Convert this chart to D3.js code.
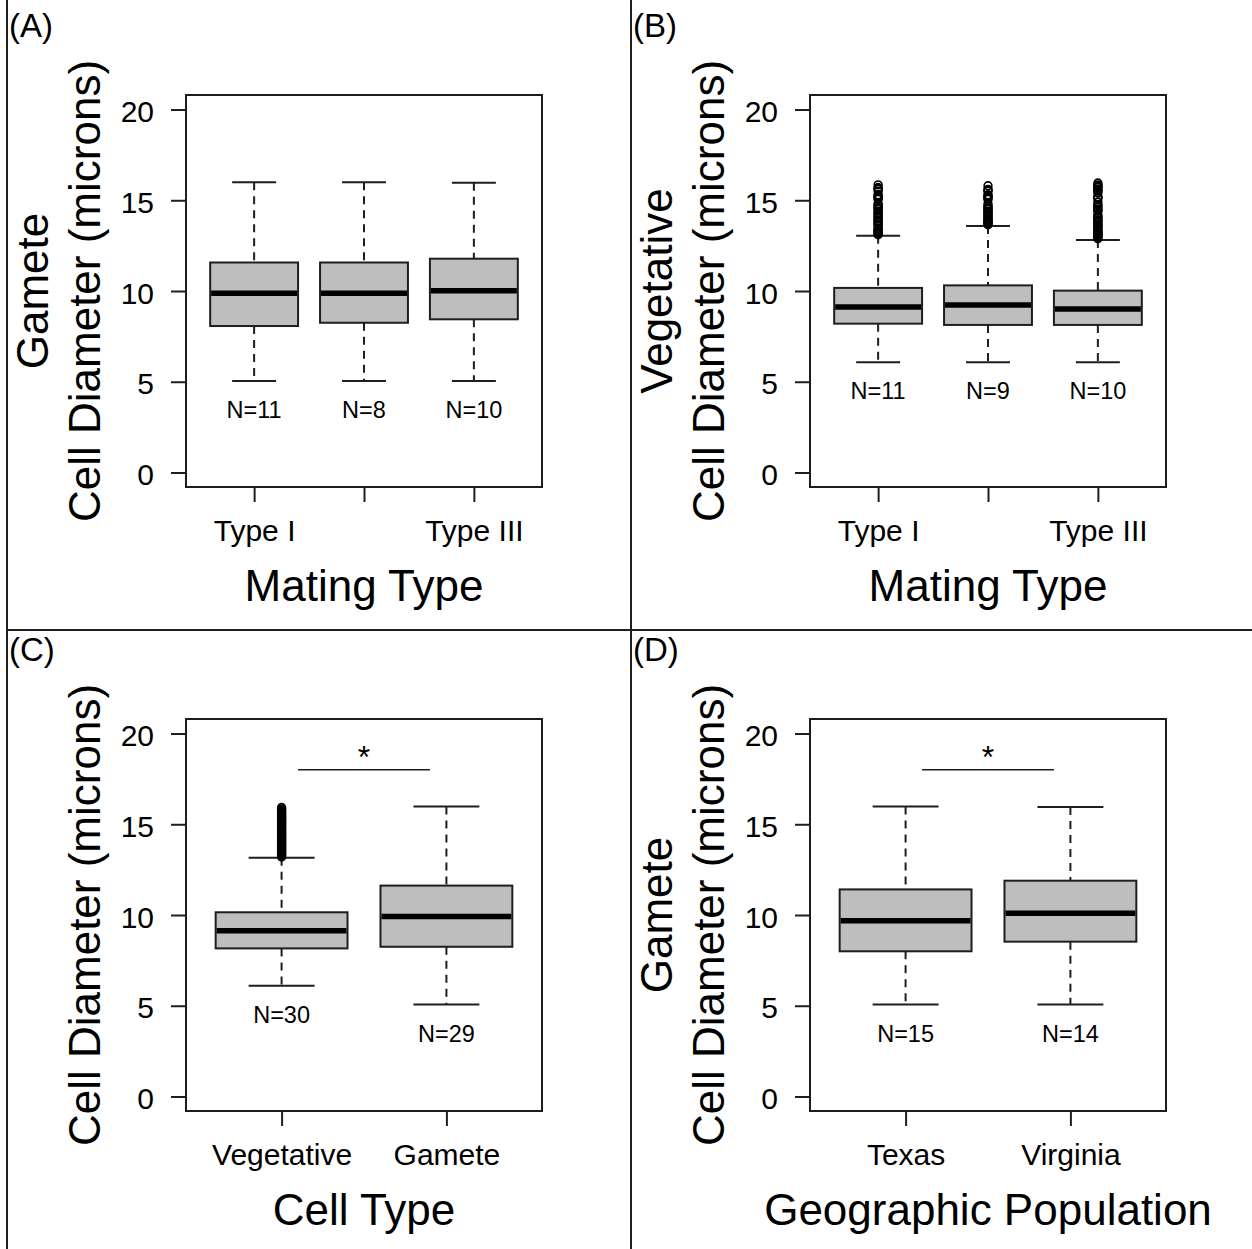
<!DOCTYPE html>
<html>
<head>
<meta charset="utf-8">
<script src="https://cdn.jsdelivr.net/npm/d3@7"></script>
<style>
  html, body { margin: 0; padding: 0; background: #fff; }
  svg { display: block; font-family: "Liberation Sans", Arial, sans-serif; }
</style>
</head>
<body>
<script>
// ---------------- DATA ----------------
const yTicks = [0, 5, 10, 15, 20];

// Panel A: gamete cell diameter by mating type
const aCategories = ["Type I", "Type II", "Type III"];
const aTickLabels = ["Type I", "", "Type III"];
const aLow    = [5.04, 5.04, 5.04];
const aQ1     = [8.07, 8.25, 8.44];
const aMedian = [9.87, 9.87, 10.02];
const aQ3     = [11.57, 11.57, 11.78];
const aHigh   = [15.99, 15.99, 15.97];
const aN      = ["N=11", "N=8", "N=10"];
const aOutliers = [[], [], []];

// Panel B: vegetative cell diameter by mating type
const bCategories = ["Type I", "Type II", "Type III"];
const bTickLabels = ["Type I", "", "Type III"];
const bLow    = [6.07, 6.07, 6.07];
const bQ1     = [8.2, 8.13, 8.13];
const bMedian = [9.12, 9.23, 9.01];
const bQ3     = [10.17, 10.31, 10.02];
const bHigh   = [13.05, 13.58, 12.81];
const bN      = ["N=11", "N=9", "N=10"];
const bOutliers1 = [13.1, 13.15, 13.2, 13.25, 13.3, 13.35, 13.4, 13.45, 13.6, 13.65, 13.7, 13.8, 13.85, 13.9, 14.0, 14.05, 14.1, 14.2, 14.25, 14.3, 14.4, 14.5, 14.55, 14.6, 14.7, 14.75, 14.8, 15.05, 15.1, 15.2, 15.25, 15.3, 15.5, 15.6, 15.65, 15.7, 15.85];
const bOutliers2 = [13.65, 13.7, 13.75, 13.8, 13.85, 13.9, 13.95, 14.0, 14.1, 14.15, 14.2, 14.3, 14.35, 14.4, 14.5, 14.55, 14.6, 14.7, 14.8, 15.05, 15.1, 15.2, 15.25, 15.3, 15.5, 15.55, 15.6, 15.8];
const bOutliers3 = [12.88, 12.95, 13.0, 13.05, 13.1, 13.15, 13.2, 13.25, 13.3, 13.35, 13.4, 13.5, 13.55, 13.6, 13.65, 13.7, 13.8, 13.85, 13.9, 14.0, 14.05, 14.1, 14.2, 14.4, 14.45, 14.5, 14.6, 14.7, 14.75, 14.9, 15.1, 15.15, 15.2, 15.4, 15.5, 15.55, 15.6, 15.7, 15.75, 15.8, 15.85, 15.95];

// Panel C: cell diameter by cell type
const cCategories = ["Vegetative", "Gamete"];
const cTickLabels = ["Vegetative", "Gamete"];
const cLow    = [6.1, 5.07];
const cQ1     = [8.16, 8.25];
const cMedian = [9.13, 9.92];
const cQ3     = [10.15, 11.62];
const cHigh   = [13.15, 15.98];
const cN      = ["N=30", "N=29"];
const cOutliers1 = [13.2, 13.25, 13.3, 13.35, 13.4, 13.45, 13.5, 13.55, 13.6, 13.65, 13.7, 13.75, 13.8, 13.85, 13.9, 13.95, 14.0, 14.05, 14.1, 14.15, 14.2, 14.25, 14.3, 14.35, 14.4, 14.45, 14.5, 14.55, 14.6, 14.65, 14.7, 14.75, 14.8, 14.85, 14.9, 14.95, 15.0, 15.05, 15.1, 15.15, 15.2, 15.25, 15.3, 15.35, 15.4, 15.45, 15.5, 15.55, 15.6, 15.65, 15.7, 15.75, 15.8, 15.85, 15.92];

// Panel D: gamete cell diameter by geographic population
const dCategories = ["Texas", "Virginia"];
const dTickLabels = ["Texas", "Virginia"];
const dLow    = [5.07, 5.07];
const dQ1     = [8.0, 8.53];
const dMedian = [9.68, 10.1];
const dQ3     = [11.41, 11.89];
const dHigh   = [15.98, 15.95];
const dN      = ["N=15", "N=14"];

// significance bars: [from group, to group, value]
const cSignif = [1.1, 1.9, 18.0];
const dSignif = [1.1, 1.9, 18.0];

// ---------------- DRAWING ----------------
const W = 1252, H = 1249;
const svg = d3.select("body").append("svg").attr("width", W).attr("height", H);
const ink = "#1e1e1e";
const FONT_TICK = 30, FONT_TITLE = 44, FONT_N = 23.5, FONT_PANEL = 33;

function makeStats(cats, low, q1, med, q3, high, n, outliers) {
  return cats.map((c, i) => ({ cat: c, low: low[i], q1: q1[i], med: med[i], q3: q3[i], high: high[i], n: n[i], out: outliers[i] || [] }));
}

const panels = [
  { ox: 0,   oy: 0,   tag: "(A)", yTitle: ["Gamete", "Cell Diameter (microns)"], xTitle: "Mating Type",
    cats: aCategories, tickLabels: aTickLabels, stats: makeStats(aCategories, aLow, aQ1, aMedian, aQ3, aHigh, aN, aOutliers), signif: null },
  { ox: 624, oy: 0,  tag: "(B)", yTitle: ["Vegetative", "Cell Diameter (microns)"], xTitle: "Mating Type",
    cats: bCategories, tickLabels: bTickLabels, stats: makeStats(bCategories, bLow, bQ1, bMedian, bQ3, bHigh, bN, [bOutliers1, bOutliers2, bOutliers3]), signif: null },
  { ox: 0,   oy: 624, tag: "(C)", yTitle: [null, "Cell Diameter (microns)"], xTitle: "Cell Type",
    cats: cCategories, tickLabels: cTickLabels, stats: makeStats(cCategories, cLow, cQ1, cMedian, cQ3, cHigh, cN, [cOutliers1, []]), signif: cSignif },
  { ox: 624, oy: 624, tag: "(D)", yTitle: ["Gamete", "Cell Diameter (microns)"], xTitle: "Geographic Population",
    cats: dCategories, tickLabels: dTickLabels, stats: makeStats(dCategories, dLow, dQ1, dMedian, dQ3, dHigh, dN, [[], []]), signif: dSignif }
];

// dividers
svg.append("line").attr("x1", 7).attr("x2", 7).attr("y1", 0).attr("y2", H).attr("stroke", ink).attr("stroke-width", 2);
svg.append("line").attr("x1", 631).attr("x2", 631).attr("y1", 0).attr("y2", H).attr("stroke", ink).attr("stroke-width", 2);
svg.append("line").attr("x1", 7).attr("x2", W).attr("y1", 630).attr("y2", 630).attr("stroke", ink).attr("stroke-width", 2);

panels.forEach(p => {
  const g = svg.append("g").attr("transform", `translate(${p.ox},${p.oy})`);
  const left = 186, right = 542, top = 95, bottom = 487;
  const n = p.cats.length;
  const ext = 0.04 * n;
  const x = d3.scaleLinear().domain([0.5 - ext, n + 0.5 + ext]).range([left, right]);
  const y = d3.scaleLinear().domain([-0.8, 20.8]).range([bottom, top]);
  const unit = x(2) - x(1);
  const bw = 0.8 * unit, cw = 0.4 * unit;

  // panel tag
  g.append("text").attr("x", 9).attr("y", 37).attr("font-size", FONT_PANEL).attr("fill", "#000").text(p.tag);

  // y axis
  const yAxis = d3.axisLeft(y).tickValues(yTicks).tickSize(15).tickPadding(17).tickFormat(d3.format("d"));
  const ya = g.append("g").attr("transform", `translate(${left},0)`).call(yAxis);
  ya.select(".domain").remove();
  ya.selectAll(".tick line").attr("stroke", ink).attr("stroke-width", 2);
  ya.selectAll(".tick text").attr("font-size", FONT_TICK).attr("fill", "#000")
    .attr("font-family", '"Liberation Sans", Arial, sans-serif').attr("dy", "0.4em");

  // x axis
  const xAxis = d3.axisBottom(x).tickValues(d3.range(1, n + 1)).tickSize(15).tickPadding(0)
    .tickFormat((d, i) => p.tickLabels[i]);
  const xa = g.append("g").attr("transform", `translate(0,${bottom})`).call(xAxis);
  xa.select(".domain").remove();
  xa.selectAll(".tick line").attr("stroke", ink).attr("stroke-width", 2);
  xa.selectAll(".tick text").attr("font-size", FONT_TICK).attr("fill", "#000")
    .attr("font-family", '"Liberation Sans", Arial, sans-serif')
    .attr("y", 53.5).attr("dy", null);

  // axis titles
  g.append("text").attr("x", (left + right) / 2).attr("y", bottom + 113.5)
    .attr("text-anchor", "middle").attr("font-size", FONT_TITLE).attr("fill", "#000").text(p.xTitle);
  const cy = (top + bottom) / 2;
  if (p.yTitle[0]) {
    g.append("text").attr("transform", `translate(48,${cy}) rotate(-90)`)
      .attr("text-anchor", "middle").attr("font-size", FONT_TITLE).attr("fill", "#000").text(p.yTitle[0]);
  }
  g.append("text").attr("transform", `translate(100,${cy}) rotate(-90)`)
    .attr("text-anchor", "middle").attr("font-size", FONT_TITLE).attr("fill", "#000").text(p.yTitle[1]);

  // boxes
  const bx = g.selectAll("g.box").data(p.stats).join("g").attr("class", "box");
  bx.each(function(d, i) {
    const gg = d3.select(this);
    const cx = x(i + 1);
    // whiskers (dashed)
    gg.append("line").attr("x1", cx).attr("x2", cx).attr("y1", y(d.high)).attr("y2", y(d.q3))
      .attr("stroke", ink).attr("stroke-width", 2).attr("stroke-dasharray", "8,6");
    gg.append("line").attr("x1", cx).attr("x2", cx).attr("y1", y(d.q1)).attr("y2", y(d.low))
      .attr("stroke", ink).attr("stroke-width", 2).attr("stroke-dasharray", "8,6");
    // caps
    [d.high, d.low].forEach(v => {
      gg.append("line").attr("x1", cx - cw / 2).attr("x2", cx + cw / 2).attr("y1", y(v)).attr("y2", y(v))
        .attr("stroke", ink).attr("stroke-width", 2);
    });
    // box
    gg.append("rect").attr("x", cx - bw / 2).attr("y", y(d.q3)).attr("width", bw).attr("height", y(d.q1) - y(d.q3))
      .attr("fill", "#bebebe").attr("stroke", ink).attr("stroke-width", 2);
    // median
    gg.append("line").attr("x1", cx - bw / 2 + 1).attr("x2", cx + bw / 2 - 1).attr("y1", y(d.med)).attr("y2", y(d.med))
      .attr("stroke", "#000").attr("stroke-width", 5.5);
    // outliers
    gg.selectAll("circle").data(d.out).join("circle")
      .attr("cx", cx).attr("cy", v => y(v)).attr("r", 3.9)
      .attr("fill", "none").attr("stroke", "#000").attr("stroke-width", 1.6);
    // N label
    gg.append("text").attr("x", cx).attr("y", y(d.low - 1.58)).attr("dy", "0.36em")
      .attr("text-anchor", "middle").attr("font-size", FONT_N).attr("fill", "#000").text(d.n);
  });

  // significance bar
  if (p.signif) {
    const [a, b, v] = p.signif;
    g.append("line").attr("x1", x(a)).attr("x2", x(b)).attr("y1", y(v)).attr("y2", y(v))
      .attr("stroke", ink).attr("stroke-width", 1.6);
    g.append("text").attr("x", x((a + b) / 2)).attr("y", y(v) - 1.5).attr("text-anchor", "middle")
      .attr("font-size", 32).attr("fill", "#000").text("*");
  }

  // plot frame
  g.append("rect").attr("x", left).attr("y", top).attr("width", right - left).attr("height", bottom - top)
    .attr("fill", "none").attr("stroke", ink).attr("stroke-width", 2);
});
</script>
</body>
</html>
